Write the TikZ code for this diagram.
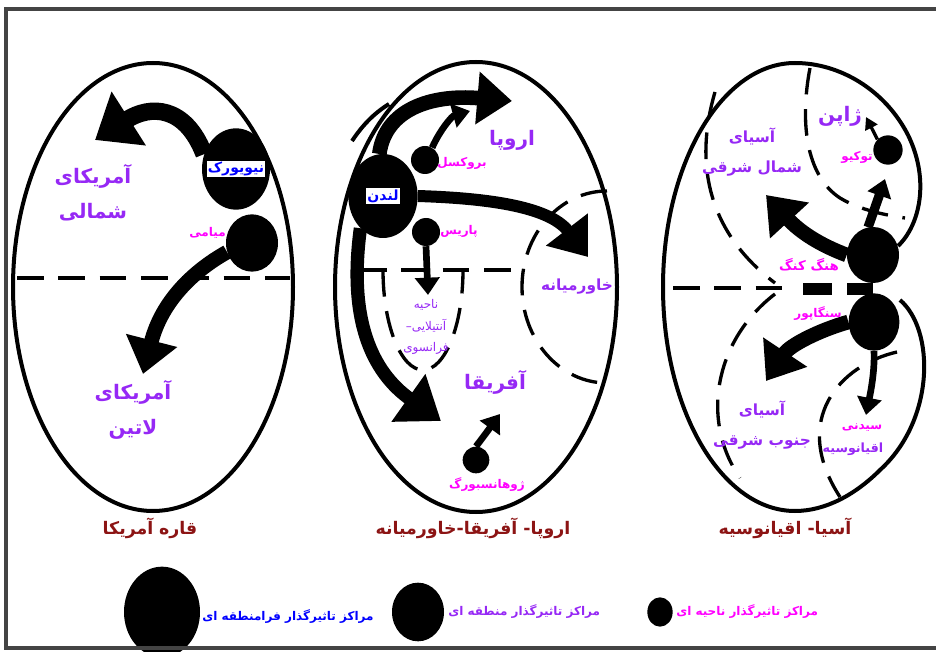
\documentclass[tikz,border=0pt]{standalone}
\usepackage{fontspec}
\usetikzlibrary{arrows.meta,shapes.geometric}
\newfontfamily\fa[Script=Arabic]{DejaVu Sans}
\TeXXeTstate=1
\newcommand{\fatxt}[1]{\beginR#1\endR}
\definecolor{regviolet}{RGB}{150,40,245}
\definecolor{citymag}{RGB}{255,0,255}
\definecolor{hubblue}{RGB}{0,0,255}
\definecolor{titlered}{RGB}{140,20,20}
\definecolor{framegray}{RGB}{68,68,68}
\tikzset{
  rim/.style={line width=3pt},
  zone/.style={line width=2.5pt, dash pattern=on 20pt off 11pt},
  hub/.style={ellipse, fill=black, inner sep=0pt},
  fatarrow/.style={line width=11pt, -{Triangle[length=26pt,width=38pt]}},
  midarrow/.style={line width=5pt, -{Triangle[length=13pt,width=18pt]}},
  thinarrow/.style={line width=2.5pt, -{Triangle[length=9pt,width=10pt]}},
  region/.style={text=regviolet, align=center, inner sep=0pt,
    font=\fa\bfseries\fontsize{15}{26}\selectfont},
  subregion/.style={text=regviolet, align=center, inner sep=0pt,
    font=\fa\bfseries\fontsize{11.5}{23}\selectfont},
  smallregion/.style={text=regviolet, align=center, inner sep=0pt,
    font=\fa\fontsize{9}{16}\selectfont},
  city/.style={text=citymag, inner sep=0pt, font=\fa\bfseries\fontsize{9}{11}\selectfont},
  hublabel/.style={fill=white, text=hubblue, inner sep=1pt, font=\fa\bfseries\fontsize{10.5}{12}\selectfont},
  title/.style={text=titlered, inner sep=0pt, font=\fa\bfseries\fontsize{13}{15}\selectfont},
  legend/.style={inner sep=0pt, font=\fa\bfseries\fontsize{9}{11}\selectfont}
}
\begin{document}
\begin{tikzpicture}[x=0.75pt, y=0.75pt, yscale=-1]
\useasboundingbox (0,0) rectangle (936,652);
% frame
\draw[framegray, line width=3pt] (936,9) -- (6,9) -- (6,648) -- (936,648);

% America
\draw[rim] (153,287) ellipse [x radius=140, y radius=224];
\draw[zone] (17,278) -- (290,278);
\node[hub, minimum width=51pt, minimum height=61pt] (ny) at (236,169) {};
\node[hub, minimum width=39pt, minimum height=43pt] (miami) at (252,243) {};
\coordinate (natip) at (95,140);
\coordinate (latip) at (143,374);
\draw[fatarrow, line width=13pt, -{Triangle[length=30pt,width=46pt]}] (ny.155) .. controls (185,105) and (150,105) .. (natip);
\draw[fatarrow] (miami.200) .. controls (195,270) and (162,300) .. (latip);
\node[hublabel] (nylabel) at (ny) {\fatxt{نیویورک}};
\node[city, anchor=east] (miamilabel) at (226,233) {\fatxt{میامی}};
\node[region] (northam) at (93,193) {\fatxt{آمریکای}\\\fatxt{شمالی}};
\node[region] (latin) at (133,410) {\fatxt{آمریکای}\\\fatxt{لاتین}};
\node[title] (amtitle) at (150,528) {\fatxt{قاره آمریکا}};

% Europe - Africa - Middle East
\draw[rim] (476,287) ellipse [x radius=141, y radius=225];
\draw[zone] (360,270) -- (523,270);
\draw[zone] (383,270) arc [start angle=180, end angle=0, x radius=40, y radius=100];
\draw[zone] (607,191) arc [start angle=270, end angle=90, x radius=85, y radius=96];
\node[hub, minimum width=52pt, minimum height=63pt] (london) at (383,196) {};
\node[hub, minimum size=21pt] (brussels) at (425,160) {};
\node[hub, minimum size=21pt] (paris) at (426,232) {};
\node[hub, minimum size=20pt] (joburg) at (476,460) {};
\coordinate (eutip) at (512,101);
\coordinate (bxtip) at (470,111);
\coordinate (metip) at (588,257);
\coordinate (antip) at (428,295);
\coordinate (aftip) at (441,421);
\coordinate (jotip) at (500,414);
\draw[rim] (352,141) .. controls (362,126) and (373,114) .. (389,104);
\draw[fatarrow] (london.95) .. controls (385,110) and (430,94) .. (eutip);
\draw[midarrow] (brussels.60) .. controls (440,130) and (452,116) .. (bxtip);
\draw[fatarrow, line width=9pt] (london.east) .. controls (480,198) and (548,205) .. (metip);
\draw[midarrow] (paris.south) -- (antip);
\draw[fatarrow, line width=10pt, -{Triangle[length=30pt,width=42pt]}] (london.235) .. controls (348,320) and (372,372) .. (aftip);
\draw[midarrow] (joburg.north) .. controls (484,436) and (492,425) .. (jotip);
\node[hublabel] (londonlabel) at (london) {\fatxt{لندن}};
\node[region] (europe) at (512,140) {\fatxt{اروپا}};
\node[city] (brusselslabel) at (462,163) {\fatxt{بروکسل}};
\node[city] (parislabel) at (459,231) {\fatxt{پاریس}};
\node[subregion] (mideast) at (577,287) {\fatxt{خاورمیانه}};
\node[smallregion] (antilles) at (426,327) {\fatxt{ناحیه}\\\fatxt{آنتیلایی–}\\\fatxt{فرانسوی}};
\node[region] (africa) at (495,382) {\fatxt{آفریقا}};
\node[city] (joburglabel) at (487,485) {\fatxt{ژوهانسبورگ}};
\node[title] (eutitle) at (473,528) {\fatxt{اروپا- آفریقا-خاورمیانه}};

% Asia - Oceania
\draw[rim] (900,300) .. controls (935,330) and (935,420) .. (880,470)
  .. controls (855,495) and (825,511) .. (795,511)
  arc [start angle=90, end angle=270, x radius=132, y radius=224]
  .. controls (840,63) and (885,90) .. (908,135)
  .. controls (930,180) and (920,225) .. (898,246);
\draw[zone] (810,68) .. controls (800,120) and (805,175) .. (840,198) .. controls (860,210) and (885,215) .. (905,218);
\draw[zone] (715,92) .. controls (695,160) and (705,230) .. (775,283);
\draw[zone] (673,288) -- (790,288);
\draw[line width=9pt, dash pattern=on 22pt off 11pt] (803,289) -- (873,289);
\draw[zone] (775,294) .. controls (715,340) and (700,420) .. (740,478);
\draw[zone] (897,352) .. controls (840,365) and (790,420) .. (840,497);
\node[hub, minimum width=39pt, minimum height=42pt] (hk) at (873,255) {};
\node[hub, minimum width=38pt, minimum height=43pt] (sg) at (874,322) {};
\node[hub, minimum size=22pt] (tokyo) at (888,150) {};
\coordinate (netip) at (766,195);
\coordinate (tktip) at (885,179);
\coordinate (jptip) at (866,117);
\coordinate (setip) at (766,381);
\coordinate (sytip) at (866,415);
\draw[fatarrow] (hk.west) .. controls (820,245) and (800,232) .. (netip);
\draw[midarrow, line width=7pt] (hk.100) -- (tktip);
\draw[thinarrow] (tokyo.135) -- (jptip);
\draw[fatarrow] (sg.west) .. controls (820,330) and (790,345) .. (setip);
\draw[midarrow] (sg.south) .. controls (875,372) and (870,395) .. (sytip);
\node[region] (japan) at (840,116) {\fatxt{ژاپن}};
\node[city] (tokyolabel) at (857,157) {\fatxt{توکیو}};
\node[subregion] (neasia) at (752,152) {\fatxt{آسیای}\\\fatxt{شمال شرقی}};
\node[city, font=\fa\bfseries\fontsize{10}{11}\selectfont] (hklabel) at (809,265) {\fatxt{هنگ کنگ}};
\node[city] (sglabel) at (818,314) {\fatxt{سنگاپور}};
\node[subregion] (seasia) at (762,425) {\fatxt{آسیای}\\\fatxt{جنوب شرقی}};
\node[city] (sydney) at (862,428) {\fatxt{سیدنی}};
\node[subregion, font=\fa\bfseries\fontsize{9.5}{11}\selectfont] (oceania) at (853,449) {\fatxt{اقیانوسیه}};
\node[title] (astitle) at (785,528) {\fatxt{آسیا- اقیانوسیه}};

% legend
\node[hub, minimum width=57pt, minimum height=68pt] (keybig) at (162,612) {};
\node[legend, text=hubblue, anchor=west] (keybiglabel) at (202,617) {\fatxt{مراکز تاثیرگذار فرامنطقه ای}};
\node[hub, minimum width=39pt, minimum height=44pt] (keymid) at (418,612) {};
\node[legend, text=regviolet, anchor=west] (keymidlabel) at (448,612) {\fatxt{مراکز تاثیرگذار منطقه ای}};
\node[hub, minimum width=19pt, minimum height=22pt] (keysmall) at (660,612) {};
\node[legend, text=citymag, anchor=west] (keysmalllabel) at (676,612) {\fatxt{مراکز تاثیرگذار ناحیه ای}};
\draw[framegray, line width=3pt] (6,648) -- (936,648);
\end{tikzpicture}
\end{document}
